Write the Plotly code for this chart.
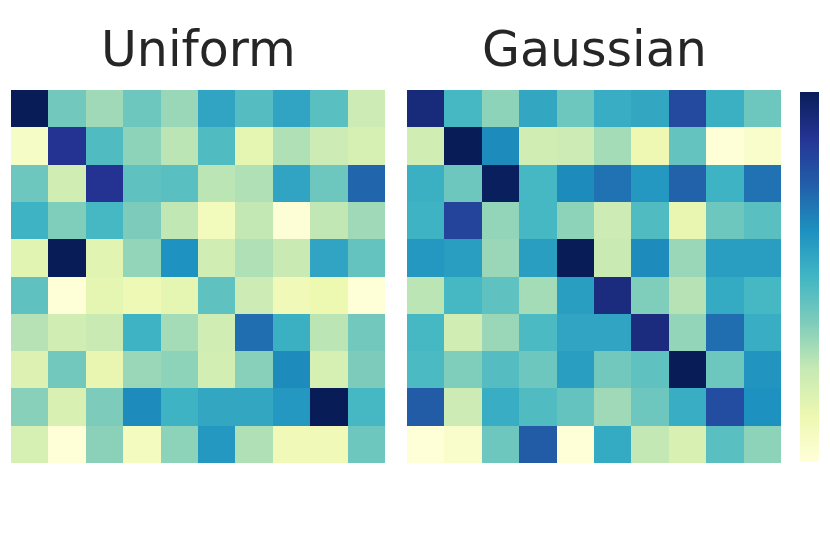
import plotly.graph_objects as go

titles = ["Uniform", "Gaussian"]

uniform = [
    [1.00, 0.40, 0.32, 0.41, 0.33, 0.56, 0.46, 0.56, 0.45, 0.23],
    [0.06, 0.88, 0.47, 0.35, 0.27, 0.47, 0.15, 0.29, 0.23, 0.20],
    [0.41, 0.22, 0.88, 0.44, 0.45, 0.27, 0.29, 0.56, 0.41, 0.73],
    [0.51, 0.375, 0.49, 0.38, 0.26, 0.09, 0.255, 0.01, 0.26, 0.32],
    [0.16, 1.00, 0.16, 0.34, 0.62, 0.22, 0.29, 0.24, 0.56, 0.43],
    [0.44, 0.005, 0.15, 0.11, 0.15, 0.44, 0.23, 0.10, 0.125, 0.005],
    [0.28, 0.22, 0.24, 0.51, 0.31, 0.22, 0.71, 0.52, 0.27, 0.40],
    [0.18, 0.40, 0.14, 0.33, 0.35, 0.21, 0.36, 0.64, 0.20, 0.38],
    [0.36, 0.19, 0.38, 0.64, 0.51, 0.55, 0.55, 0.60, 1.00, 0.49],
    [0.20, 0.005, 0.355, 0.08, 0.35, 0.60, 0.29, 0.10, 0.10, 0.41],
]

gaussian = [
    [0.93, 0.49, 0.35, 0.55, 0.41, 0.53, 0.55, 0.81, 0.52, 0.41],
    [0.22, 1.00, 0.64, 0.22, 0.23, 0.31, 0.12, 0.43, 0.005, 0.04],
    [0.52, 0.41, 0.99, 0.49, 0.64, 0.70, 0.60, 0.74, 0.51, 0.70],
    [0.51, 0.83, 0.34, 0.49, 0.35, 0.23, 0.47, 0.14, 0.41, 0.45],
    [0.60, 0.58, 0.33, 0.58, 1.00, 0.24, 0.64, 0.33, 0.58, 0.58],
    [0.27, 0.49, 0.44, 0.31, 0.58, 0.92, 0.375, 0.28, 0.54, 0.49],
    [0.49, 0.22, 0.33, 0.48, 0.56, 0.56, 0.92, 0.34, 0.71, 0.53],
    [0.48, 0.375, 0.46, 0.41, 0.58, 0.40, 0.44, 1.00, 0.41, 0.61],
    [0.76, 0.23, 0.53, 0.47, 0.43, 0.32, 0.41, 0.53, 0.80, 0.625],
    [0.005, 0.04, 0.41, 0.76, 0.005, 0.54, 0.255, 0.19, 0.45, 0.35],
]

ylgnbu = [
    [0.0, "#ffffd9"], [0.125, "#edf8b1"], [0.25, "#c7e9b4"],
    [0.375, "#7fcdbb"], [0.5, "#41b6c4"], [0.625, "#1d91c0"],
    [0.75, "#225ea8"], [0.875, "#253494"], [1.0, "#081d58"],
]

W, H = 830, 554
OFF = 8  # page body margin offset


def px_x(p):
    return (p - OFF) / W


def px_y(p):
    return (H - (p - OFF)) / H


fig = go.Figure()
for i, z in enumerate([uniform, gaussian]):
    fig.add_trace(go.Heatmap(
        z=z, coloraxis="coloraxis",
        xaxis="x" if i == 0 else "x2",
        yaxis="y" if i == 0 else "y2",
        hoverongaps=False,
    ))

axis_common = dict(showgrid=False, zeroline=False, showticklabels=False, ticks="", showline=False)
title_font = dict(family="DejaVu Sans", size=49, color="#262626")
fig.update_layout(
    width=W, height=H,
    margin=dict(l=0, r=0, t=0, b=0),
    paper_bgcolor="white", plot_bgcolor="white",
    xaxis=dict(domain=[px_x(11), px_x(385)], range=[-0.5, 9.5], **axis_common),
    yaxis=dict(domain=[px_y(463), px_y(90)], range=[9.5, -0.5], **axis_common),
    xaxis2=dict(domain=[px_x(407), px_x(781)], range=[-0.5, 9.5], anchor="y2", **axis_common),
    yaxis2=dict(domain=[px_y(463), px_y(90)], range=[9.5, -0.5], anchor="x2", **axis_common),
    coloraxis=dict(
        colorscale=ylgnbu, cmin=0, cmax=1,
        colorbar=dict(
            x=px_x(800), xanchor="left", thickness=19, thicknessmode="pixels",
            len=(462 - 92) / H, lenmode="fraction", y=px_y(277), yanchor="middle",
            outlinewidth=0, showticklabels=False, ticks="", xpad=0, ypad=0,
        ),
    ),
    annotations=[
        dict(text=titles[0], x=px_x(198), y=px_y(49), xref="paper", yref="paper",
             xanchor="center", yanchor="middle", showarrow=False, font=title_font),
        dict(text=titles[1], x=px_x(594), y=px_y(49), xref="paper", yref="paper",
             xanchor="center", yanchor="middle", showarrow=False, font=title_font),
    ],
)

fig.write_html("out.html")
